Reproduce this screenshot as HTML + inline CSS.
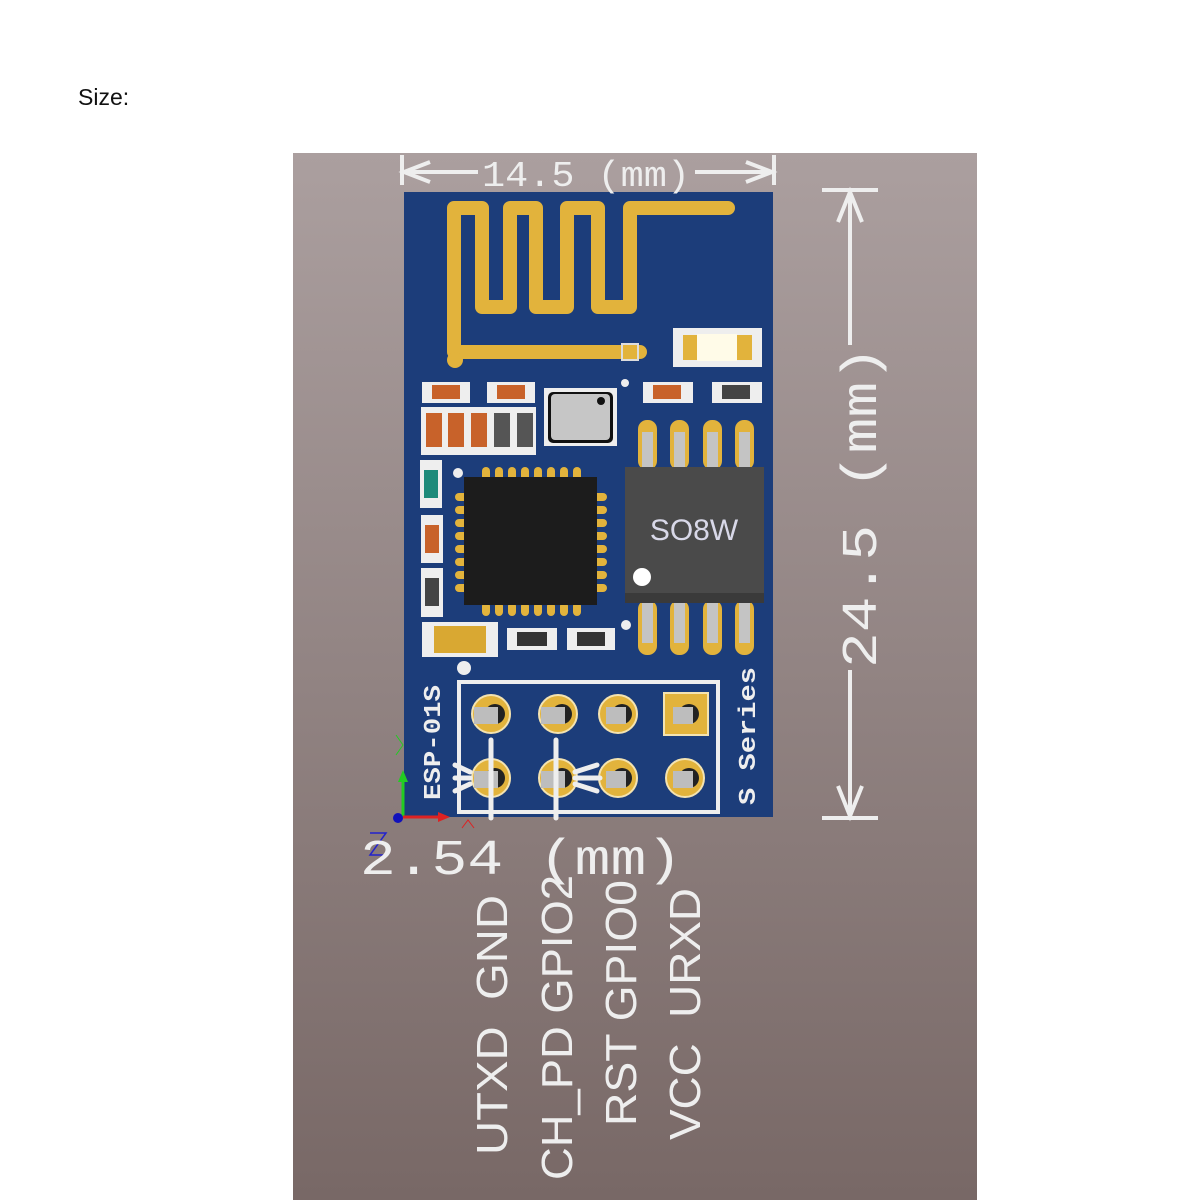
<!DOCTYPE html>
<html><head><meta charset="utf-8"><style>
html,body{margin:0;padding:0;background:#fff;width:1200px;height:1200px;overflow:hidden}
</style></head><body>
<svg width="1200" height="1200" viewBox="0 0 1200 1200" xmlns="http://www.w3.org/2000/svg" font-family="Liberation Sans, sans-serif">
<defs>
<linearGradient id="bg" x1="0" y1="0" x2="0" y2="1">
<stop offset="0" stop-color="#ab9f9f"/><stop offset="1" stop-color="#786866"/>
</linearGradient>
</defs>
<text x="78" y="105" font-size="23" fill="#111">Size:</text>
<rect x="293" y="153" width="684" height="1047" fill="url(#bg)"/>
<rect x="404" y="192" width="369" height="625" fill="#1c3d7a"/>
<g fill="none" stroke="#e2b33c" stroke-width="14" stroke-linejoin="round" stroke-linecap="round">
<path d="M640,352 L454,352 L454,208 L482,208 L482,307 L510,307 L510,208 L536,208 L536,307 L567,307 L567,208 L598,208 L598,307 L630,307 L630,208 L728,208"/>
</g>
<circle cx="455" cy="360" r="8" fill="#e2b33c"/>
<rect x="622" y="344" width="16" height="16" fill="#e2b33c" stroke="#ddd" stroke-width="2"/>
<rect x="673" y="328" width="89" height="39" fill="#eee"/>
<rect x="683" y="335" width="69" height="25" fill="#e2b33c"/>
<rect x="697" y="334" width="40" height="27" fill="#fffbe8"/>
<g>
<rect x="422" y="382" width="48" height="21" fill="#eee"/><rect x="432" y="385" width="28" height="14" fill="#c8622a"/>
<rect x="487" y="382" width="48" height="21" fill="#eee"/><rect x="497" y="385" width="28" height="14" fill="#c8622a"/>
<rect x="643" y="382" width="50" height="21" fill="#eee"/><rect x="653" y="385" width="28" height="14" fill="#c8622a"/>
<rect x="712" y="382" width="50" height="21" fill="#eee"/><rect x="722" y="385" width="28" height="14" fill="#444"/>
</g>
<g>
<rect x="421" y="407" width="115" height="48" fill="#eee"/>
<rect x="426" y="413" width="16" height="34" fill="#c8622a"/>
<rect x="448" y="413" width="16" height="34" fill="#c8622a"/>
<rect x="471" y="413" width="16" height="34" fill="#c8622a"/>
<rect x="494" y="413" width="16" height="34" fill="#555"/>
<rect x="517" y="413" width="16" height="34" fill="#555"/>
</g>
<rect x="544" y="388" width="73" height="58" fill="#eee"/>
<rect x="548" y="392" width="65" height="51" rx="5" fill="#111"/>
<rect x="551" y="394" width="59" height="46" rx="4" fill="#c6c6c6"/>
<circle cx="601" cy="401" r="4" fill="#111"/>
<circle cx="625" cy="383" r="4" fill="#eee"/>
<rect x="420" y="460" width="22" height="48" fill="#eee"/><rect x="424" y="470" width="14" height="28" fill="#1d8a7a"/>
<rect x="421" y="515" width="22" height="48" fill="#eee"/><rect x="425" y="525" width="14" height="28" fill="#c8622a"/>
<rect x="421" y="568" width="22" height="49" fill="#eee"/><rect x="425" y="578" width="14" height="28" fill="#444"/>
<g fill="#e2b33c">
<rect x="482" y="467" width="8" height="14" rx="4"/><rect x="495" y="467" width="8" height="14" rx="4"/><rect x="508" y="467" width="8" height="14" rx="4"/><rect x="521" y="467" width="8" height="14" rx="4"/><rect x="534" y="467" width="8" height="14" rx="4"/><rect x="547" y="467" width="8" height="14" rx="4"/><rect x="560" y="467" width="8" height="14" rx="4"/><rect x="573" y="467" width="8" height="14" rx="4"/>
<rect x="482" y="602" width="8" height="14" rx="4"/><rect x="495" y="602" width="8" height="14" rx="4"/><rect x="508" y="602" width="8" height="14" rx="4"/><rect x="521" y="602" width="8" height="14" rx="4"/><rect x="534" y="602" width="8" height="14" rx="4"/><rect x="547" y="602" width="8" height="14" rx="4"/><rect x="560" y="602" width="8" height="14" rx="4"/><rect x="573" y="602" width="8" height="14" rx="4"/>
<rect x="455" y="493" width="14" height="8" rx="4"/><rect x="455" y="506" width="14" height="8" rx="4"/><rect x="455" y="519" width="14" height="8" rx="4"/><rect x="455" y="532" width="14" height="8" rx="4"/><rect x="455" y="545" width="14" height="8" rx="4"/><rect x="455" y="558" width="14" height="8" rx="4"/><rect x="455" y="571" width="14" height="8" rx="4"/><rect x="455" y="584" width="14" height="8" rx="4"/>
<rect x="593" y="493" width="14" height="8" rx="4"/><rect x="593" y="506" width="14" height="8" rx="4"/><rect x="593" y="519" width="14" height="8" rx="4"/><rect x="593" y="532" width="14" height="8" rx="4"/><rect x="593" y="545" width="14" height="8" rx="4"/><rect x="593" y="558" width="14" height="8" rx="4"/><rect x="593" y="571" width="14" height="8" rx="4"/><rect x="593" y="584" width="14" height="8" rx="4"/>
</g>
<rect x="464" y="477" width="133" height="128" fill="#1c1c1c"/>
<circle cx="458" cy="473" r="5" fill="#eee"/>
<g fill="#e2b33c">
<rect x="638" y="420" width="19" height="50" rx="9"/><rect x="670" y="420" width="19" height="50" rx="9"/><rect x="703" y="420" width="19" height="50" rx="9"/><rect x="735" y="420" width="19" height="50" rx="9"/>
<rect x="638" y="600" width="19" height="55" rx="9"/><rect x="670" y="600" width="19" height="55" rx="9"/><rect x="703" y="600" width="19" height="55" rx="9"/><rect x="735" y="600" width="19" height="55" rx="9"/>
</g>
<g fill="#c4c4c4">
<rect x="642" y="432" width="11" height="36"/><rect x="674" y="432" width="11" height="36"/><rect x="707" y="432" width="11" height="36"/><rect x="739" y="432" width="11" height="36"/>
<rect x="642" y="603" width="11" height="40"/><rect x="674" y="603" width="11" height="40"/><rect x="707" y="603" width="11" height="40"/><rect x="739" y="603" width="11" height="40"/>
</g>
<rect x="625" y="467" width="139" height="136" fill="#4a4a4a"/>
<rect x="625" y="593" width="139" height="10" fill="#3a3a3a"/>
<text x="694" y="540" font-size="30" fill="#d8d8e8" text-anchor="middle">SO8W</text>
<circle cx="642" cy="577" r="9" fill="#fff"/>
<circle cx="626" cy="625" r="5" fill="#eee"/>
<rect x="422" y="622" width="76" height="35" fill="#eee"/><rect x="434" y="626" width="52" height="27" fill="#d9a832"/>
<rect x="507" y="628" width="50" height="22" fill="#eee"/><rect x="517" y="632" width="30" height="14" fill="#333"/>
<rect x="567" y="628" width="48" height="22" fill="#eee"/><rect x="577" y="632" width="28" height="14" fill="#333"/>
<circle cx="464" cy="668" r="7" fill="#eee"/>
<rect x="459" y="682" width="259" height="130" fill="none" stroke="#eee" stroke-width="4"/>
<g fill="#e2b33c" stroke="#f4e3b0" stroke-width="2">
<circle cx="491" cy="714" r="19"/><circle cx="558" cy="714" r="19"/><circle cx="618" cy="714" r="19"/>
<rect x="664" y="693" width="44" height="42"/>
<circle cx="491" cy="778" r="19"/><circle cx="558" cy="778" r="19"/><circle cx="618" cy="778" r="19"/><circle cx="685" cy="778" r="19"/>
</g>
<g fill="#222"><circle cx="495" cy="714" r="10"/><circle cx="562" cy="714" r="10"/><circle cx="622" cy="714" r="10"/><circle cx="689" cy="714" r="10"/><circle cx="495" cy="778" r="10"/><circle cx="562" cy="778" r="10"/><circle cx="622" cy="778" r="10"/><circle cx="689" cy="778" r="10"/></g>
<g fill="#bdbdbd"><rect x="474" y="707" width="24" height="17"/><rect x="541" y="707" width="24" height="17"/><rect x="606" y="707" width="20" height="17"/><rect x="673" y="707" width="20" height="17"/><rect x="474" y="771" width="24" height="17"/><rect x="541" y="771" width="24" height="17"/><rect x="606" y="771" width="20" height="17"/><rect x="673" y="771" width="20" height="17"/></g>
<g stroke="#eee" stroke-width="5" stroke-linecap="round">
<line x1="491" y1="740" x2="491" y2="818"/><line x1="556" y1="740" x2="556" y2="818"/>
<line x1="455" y1="778" x2="470" y2="778"/><line x1="455" y1="765" x2="470" y2="772"/><line x1="455" y1="791" x2="470" y2="784"/>
<line x1="575" y1="778" x2="600" y2="778"/><line x1="575" y1="772" x2="597" y2="765"/><line x1="575" y1="784" x2="597" y2="791"/>
</g>
<text transform="translate(440,800) rotate(-90)" font-family="Liberation Mono, monospace" font-weight="bold" font-size="24" fill="#eee" textLength="115" lengthAdjust="spacingAndGlyphs">ESP-01S</text>
<text transform="translate(755,805) rotate(-90)" font-family="Liberation Mono, monospace" font-weight="bold" font-size="24" fill="#eee" textLength="138" lengthAdjust="spacingAndGlyphs">S Series</text>
<line x1="403" y1="817" x2="403" y2="780" stroke="#22cc22" stroke-width="3"/>
<polygon points="398,782 408,782 403,770" fill="#22cc22"/>
<line x1="403" y1="817" x2="440" y2="817" stroke="#dd2222" stroke-width="3"/>
<polygon points="438,812 450,817 438,822" fill="#dd2222"/>
<circle cx="398" cy="818" r="5" fill="#1111bb"/>
<path d="M396,735 L403,745 L396,755" stroke="#22cc22" fill="none" stroke-width="1"/>
<path d="M462,828 L468,820 L474,828" stroke="#dd2222" fill="none" stroke-width="1"/>
<path d="M370,833 L386,833 L370,855 L386,855" stroke="#2222cc" fill="none" stroke-width="1.5"/>
<g stroke="#eee" stroke-width="4" fill="none">
<line x1="402" y1="155" x2="402" y2="185"/><line x1="774" y1="155" x2="774" y2="185"/>
<line x1="404" y1="172" x2="478" y2="172"/><line x1="695" y1="172" x2="772" y2="172"/>
<polyline points="430,162 404,172 430,182"/><polyline points="746,162 772,172 746,182"/>
</g>
<text x="482" y="186" font-family="Liberation Mono, monospace" font-size="36" fill="#eee" textLength="208" lengthAdjust="spacingAndGlyphs">14.5 (mm)</text>
<g stroke="#eee" stroke-width="4" fill="none">
<line x1="822" y1="190" x2="878" y2="190"/><line x1="822" y1="818" x2="878" y2="818"/>
<line x1="850" y1="192" x2="850" y2="345"/><line x1="850" y1="670" x2="850" y2="816"/>
<polyline points="838,222 850,192 862,222"/><polyline points="838,786 850,816 862,786"/>
</g>
<text transform="translate(876,668) rotate(-90)" font-family="Liberation Mono, monospace" font-size="50" fill="#eee" textLength="322" lengthAdjust="spacingAndGlyphs">24.5 (mm)</text>
<text x="360" y="874" font-family="Liberation Mono, monospace" font-size="50" fill="#eee" textLength="322" lengthAdjust="spacingAndGlyphs">2.54 (mm)</text>
<g font-size="44" fill="#eee">
<text transform="translate(507,1155) rotate(-90)" textLength="260" lengthAdjust="spacingAndGlyphs">UTXD&#160;&#160;GND</text>
<text transform="translate(572,1180) rotate(-90)" textLength="305" lengthAdjust="spacingAndGlyphs">CH_PD GPIO2</text>
<text transform="translate(636,1126) rotate(-90)" textLength="246" lengthAdjust="spacingAndGlyphs">RST GPIO0</text>
<text transform="translate(700,1140) rotate(-90)" textLength="252" lengthAdjust="spacingAndGlyphs">VCC&#160;&#160;URXD</text>
</g>
</svg>
</body></html>
